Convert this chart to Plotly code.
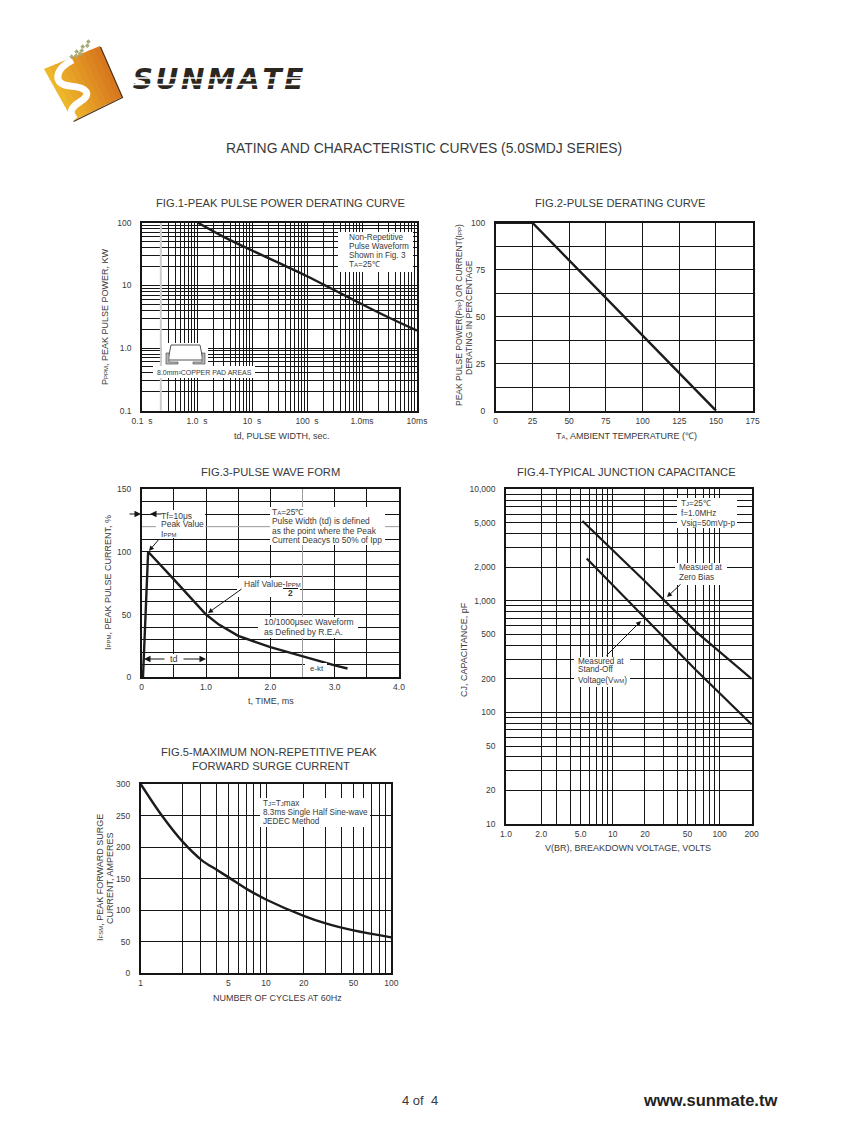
import numpy as np
import plotly.graph_objects as go

W, H = 847, 1125
INK = "#151515"
TXT = "#3a3a3a"
GRAY = "#9a9a9a"
FONT = "Liberation Sans"

# ---- data -------------------------------------------------------------
fig1_x = [1.04, 3, 10, 30, 100, 300, 1000, 3000, 10000]
fig1_y = [100, 60, 36, 23, 14, 8.6, 5, 3.1, 1.9]
fig1_xticks = [0.1, 1, 10, 100, 1000, 10000]
fig1_xlabels = ["0.1  s", "1.0  s", "10  s", "100  s", "1.0ms", "10ms"]
fig1_yticks = [0.1, 1, 10, 100]
fig1_ylabels = ["0.1", "1.0", "10", "100"]

fig2_x = [0, 25, 150]
fig2_y = [100, 100, 0]
fig2_xticks = [0, 25, 50, 75, 100, 125, 150, 175]
fig2_yticks = [0, 25, 50, 75, 100]
fig2_yminor = [12.5, 37.5, 62.5, 87.5]

fig3_x = [0.02, 0.1, 0.5, 1.0, 1.2, 1.5, 2.0, 2.5, 3.0, 3.2]
fig3_y = [0, 100, 78, 50, 42, 33, 24, 16.5, 9.5, 7]
fig3_xticks = [0, 1, 2, 3, 4]
fig3_xlabels = ["0", "1.0", "2.0", "3.0", "4.0"]
fig3_xminor = [0.5, 1.5, 3.5]
fig3_xgray = 2.5
fig3_yticks = [0, 50, 100, 150]
fig3_yminor = [10, 20, 30, 40, 60, 70, 80, 90, 110, 130, 140]
fig3_ygray = 120

fig4_zero_x = [5.2, 20, 60, 200]
fig4_zero_y = [5200, 1500, 530, 200]
fig4_standoff_x = [5.7, 20, 60, 200]
fig4_standoff_y = [2400, 710, 240, 78]
fig4_xticks = [1, 2.14, 5, 10, 20, 50, 100, 200]
fig4_xlabels = ["1.0", "2.0", "5.0", "10", "20", "50", "100", "200"]
fig4_xminor = [3, 4, 6, 7, 8, 9, 30, 40, 60, 70, 80, 90]
fig4_yticks = [10, 20, 50, 100, 200, 500, 1000, 2000, 5000, 10000]
fig4_ylabels = ["10", "20", "50", "100", "200", "500", "1,000", "2,000", "5,000", "10,000"]
fig4_yminor = [30, 40, 60, 70, 80, 90, 300, 400, 600, 700, 800, 900, 3000, 4000, 6000, 7000, 8000, 9000]

fig5_x = [1, 1.5, 2.15, 3.08, 4.04, 5.04, 7.1, 10, 20, 30, 50, 100]
fig5_y = [300, 248, 209, 179, 164, 152, 133, 117, 91, 79, 68, 57]
fig5_xticks = [1, 5, 10, 20, 50, 100]
fig5_xminor = [2.15, 3, 4, 6, 7, 8, 9, 30, 40, 60, 70, 80, 90]
fig5_yticks = [0, 50, 100, 150, 200, 250, 300]

digits = [2, 3, 4, 5, 6, 7, 8, 9]
fig1_xminor = [d * 10.0 ** e for e in range(-1, 4) for d in digits if not (e == -1 and d == 2)]
fig1_xgray = 0.22
fig1_yminor = [d * 10.0 ** e for e in range(-1, 2) for d in digits]

logo_word = ["S\u200aU\u200aN\u200aM\u200aA\u200aT\u200aE"]


def X(v):
    return v / W


def Y(v):
    return 1 - v / H


def sm(t, s=6):
    return f'<span style="font-size:{s}px">{t}</span>'


annotations = []
shapes = []


def label(x, y, text, size=9, anchor="left", angle=0, color=TXT, bold=False, italic=False, family=FONT):
    if bold:
        text = f"<b>{text}</b>"
    if italic:
        text = f"<i>{text}</i>"
    annotations.append(dict(x=X(x), y=Y(y), xref="paper", yref="paper", text=text, showarrow=False,
                            xanchor=anchor, yanchor="middle", textangle=angle, borderpad=0,
                            font=dict(family=family, size=size, color=color)))


def arrow(x0, y0, x1, y1, head=1.0):
    annotations.append(dict(x=X(x1), y=Y(y1), xref="paper", yref="paper", text="", showarrow=True,
                            ax=x0 - x1, ay=y0 - y1, axref="pixel", ayref="pixel",
                            arrowhead=2, arrowsize=head, arrowwidth=1, arrowcolor=INK))


def box(x0, y0, x1, y1):
    shapes.append(dict(type="rect", xref="paper", yref="paper", x0=X(x0), x1=X(x1), y0=Y(y0), y1=Y(y1),
                       fillcolor="white", line=dict(width=0), layer="above"))


def segment(x0, y0, x1, y1, color=INK, width=1):
    shapes.append(dict(type="line", xref="paper", yref="paper", x0=X(x0), x1=X(x1), y0=Y(y0), y1=Y(y1),
                       line=dict(color=color, width=width), layer="above"))


def poly(points, fill=None, color=None, width=0, curve=None):
    path = curve or ("M " + " L ".join(f"{X(a):.5f} {Y(b):.5f}" for a, b in points) + " Z")
    shapes.append(dict(type="path", xref="paper", yref="paper", path=path, fillcolor=fill or "rgba(0,0,0,0)",
                       line=dict(color=color or "rgba(0,0,0,0)", width=width), layer="above"))


def axis(domain, rng, tickvals, ticktext, minor, kind="linear", anchor="y", standoff=1):
    return dict(
        domain=domain, range=rng, type=kind, anchor=anchor, tickmode="array", tickvals=tickvals,
        ticktext=ticktext, showgrid=True, gridcolor=INK, gridwidth=1, showline=True, linecolor=INK,
        linewidth=1.5, mirror=True, ticks="", zeroline=False, ticklabelstandoff=standoff, automargin=False,
        tickfont=dict(family=FONT, size=8.5, color=TXT),
        minor=dict(tickmode="array", tickvals=minor, showgrid=True, gridcolor=INK, gridwidth=1, ticks=""),
    )


layout_axes = {}


def panel(i, px, py, xr, yr, xt, xl, xm, yt, yl, ym, xkind="linear", ykind="linear"):
    sx = "" if i == 1 else str(i)
    layout_axes[f"xaxis{sx}"] = axis([X(px[0]), X(px[1])], xr, xt, xl, xm, xkind, f"y{sx}", 1)
    layout_axes[f"yaxis{sx}"] = axis([Y(py[1]), Y(py[0])], yr, yt, yl, ym, ykind, f"x{sx}", 7)


panel(1, (142, 417), (222.7, 410.7), [-1, 4], [-1, 2], fig1_xticks, fig1_xlabels, fig1_xminor,
      fig1_yticks, fig1_ylabels, fig1_yminor, "log", "log")
panel(2, (495.7, 752.7), (222.7, 410.7), [0, 175], [0, 100], fig2_xticks, [str(v) for v in fig2_xticks], [],
      fig2_yticks, [str(v) for v in fig2_yticks], fig2_yminor)
panel(3, (141.7, 399), (489, 677.3), [0, 4], [0, 150], fig3_xticks, fig3_xlabels, fig3_xminor,
      fig3_yticks, [str(v) for v in fig3_yticks], fig3_yminor)
panel(4, (506, 751.7), (489.3, 824), [0, float(np.log10(200))], [1, 4], fig4_xticks, fig4_xlabels, fig4_xminor,
      fig4_yticks, fig4_ylabels, fig4_yminor, "log", "log")
panel(5, (140.7, 391.3), (784, 973.3), [0, 2], [0, 300], fig5_xticks, [str(v) for v in fig5_xticks], fig5_xminor,
      fig5_yticks, [str(v) for v in fig5_yticks], [], "log", "linear")

# hidden axes that only carry the logo word, so the slit lines can sit above it
layout_axes["xaxis6"] = dict(domain=[X(130), X(305)], range=[0, 1], visible=False, anchor="y6", fixedrange=True)
layout_axes["yaxis6"] = dict(domain=[Y(97), Y(67)], range=[0, 1], visible=False, anchor="x6", fixedrange=True)

fig = go.Figure()


def curve(x, y, i, width=2.4, color="#1c1c1c", shape="linear"):
    sx = "" if i == 1 else str(i)
    fig.add_trace(go.Scatter(x=x, y=y, mode="lines", xaxis=f"x{sx}", yaxis=f"y{sx}", showlegend=False,
                             line=dict(color=color, width=width, shape=shape), hoverinfo="skip"))


curve([fig1_xgray, fig1_xgray], [0.1, 100], 1, 2, "#cccccc")
curve(fig1_x, fig1_y, 1, 2.4, shape="spline")
curve(fig2_x, fig2_y, 2, 2.4)
curve([fig3_xgray, fig3_xgray], [0, 150], 3, 1, GRAY)
curve([0, 4], [fig3_ygray, fig3_ygray], 3, 1, GRAY)
curve(fig3_x, fig3_y, 3, 2.4)
curve(fig4_zero_x, fig4_zero_y, 4, 2.2)
curve(fig4_standoff_x, fig4_standoff_y, 4, 2.2)
curve(fig5_x, fig5_y, 5, 2.4, shape="spline")
fig.add_trace(go.Scatter(x=[0.015], y=[0.5], xaxis="x6", yaxis="y6", mode="text", text=logo_word, showlegend=False,
                         textposition="middle right", hoverinfo="skip", cliponaxis=False,
                         textfont=dict(family="DejaVu Sans", size=28, color="#2b2620", weight="bold", style="italic")))

# ---- white annotation boxes ---------------------------------------------
box(338, 232, 413, 272)
box(153, 366, 255, 378)
box(162, 343, 208, 366)
box(270, 507, 385, 545)
box(237, 578, 300, 597)
box(258, 617, 358, 638)
box(165, 654, 182, 664)
box(305, 663, 327, 673)
box(156, 510, 205, 538)
box(677, 498, 737, 528)
box(675, 563, 727, 585)
box(574, 657, 630, 687)
box(260, 798, 370, 827)

# ---- small package sketch, FIG.1 -----------------------------------------
poly([(171, 345), (200, 345), (203, 360), (168, 360)], fill="white", color="#555555", width=1)
poly([(166, 353), (169, 353), (169, 362), (178, 362), (178, 364), (166, 364)], fill="#b5b5b5", color="#555555", width=0.7)
poly([(205, 353), (202, 353), (202, 362), (193, 362), (193, 364), (205, 364)], fill="#b5b5b5", color="#555555", width=0.7)

# ---- figure titles -------------------------------------------------------
label(424, 148, "RATING AND CHARACTERISTIC CURVES (5.0SMDJ SERIES)", 13.9, "center")
label(280.5, 203, "FIG.1-PEAK PULSE POWER DERATING CURVE", 11.2, "center")
label(620.5, 203, "FIG.2-PULSE DERATING CURVE", 11.2, "center")
label(270, 472, "FIG.3-PULSE WAVE FORM", 11.2, "center")
label(626.5, 472, "FIG.4-TYPICAL JUNCTION CAPACITANCE", 11.2, "center")
label(268.5, 752, "FIG.5-MAXIMUM NON-REPETITIVE PEAK", 11.2, "center")
label(270.5, 766, "FORWARD SURGE CURRENT", 11.2, "center")

# ---- axis titles -----------------------------------------------------------
label(282, 436, "td, PULSE WIDTH, sec.", 9, "center")
label(105, 317, "P" + sm("PPM") + ", PEAK PULSE POWER, KW", 9, "center", -90)
label(626, 436, "T" + sm("A") + ", AMBIENT TEMPERATURE (℃)", 9, "center")
label(459, 315, "PEAK PULSE POWER(P" + sm("PP") + ") OR CURRENT(I" + sm("PP") + ")", 8.5, "center", -90)
label(469, 318, "DERATING IN PERCENTAGE", 8.5, "center", -90)
label(271, 701, "t, TIME, ms", 9, "center")
label(108, 583, "I" + sm("PPM") + ", PEAK PULSE CURRENT, %", 9, "center", -90)
label(628, 848, "V(BR), BREAKDOWN VOLTAGE, VOLTS", 9, "center")
label(464, 650, "CJ, CAPACITANCE, pF", 9, "center", -90)
label(277, 998, "NUMBER OF CYCLES AT 60Hz", 9, "center")
label(100, 878, "I" + sm("FSM") + ", PEAK FORWARD SURGE", 9, "center", -90)
label(110, 878, "CURRENT, AMPERES", 9, "center", -90)

# ---- annotations inside the charts ------------------------------------------
for yy, t in zip([237.5, 246, 255, 264],
                 ["Non-Repetitive", "Pulse Waveform", "Shown in Fig. 3", "T" + sm("A") + "=25℃"]):
    label(348, yy, t, 8.2)
label(204, 372, "8.0mm²COPPER PAD AREAS", 7, "center")

label(160, 515.5, "Tf=10μs", 8.5)
label(160, 524, "Peak Value", 8.5)
label(160, 534, "I" + sm("PPM"), 8.5)
arrow(128, 514, 141, 514, 1.3)
arrow(163, 514, 150, 514, 1.3)
arrow(160, 538, 149, 551)
for yy, t in zip([511.5, 521, 531, 540],
                 ["T" + sm("A") + "=25℃", "Pulse Width (td) is defined",
                  "as the point where the Peak", "Current Deacys to 50% of Ipp"]):
    label(271, yy, t, 8.4)
label(243, 584, "Half Value-I" + sm("PPM"), 8.5)
segment(283, 588.5, 298, 588.5, INK, 1)
label(290.5, 593, "2", 8.5, "center", bold=True)
arrow(243, 588, 208, 613)
label(263, 622, "10/1000μsec Waveform", 8.5)
label(263, 632, "as Defined by R.E.A.", 8.5)
label(174, 659, "td", 9, "center")
arrow(166, 659, 144, 659, 1.3)
arrow(182, 659, 206, 659, 1.3)
label(309, 668, "e-kt", 8)

for yy, t in zip([503, 513, 523], ["T" + sm("J") + "=25℃", "f=1.0MHz", "Vsig=50mVp-p"]):
    label(680, yy, t, 8.2)
label(678, 567, "Measued at", 8.2)
label(678, 577, "Zero Bias", 8.2)
arrow(682, 583, 667, 597)
for yy, t in zip([661, 670, 680], ["Measured at", "Stand-Off", "Voltage(V" + sm("WM") + ")"]):
    label(577, yy, t, 8.2)
arrow(605, 657, 641, 621)
for yy, t in zip([803, 812, 821], ["T" + sm("J") + "=T" + sm("J") + "max", "8.3ms Single Half Sine-wave", "JEDEC Method"]):
    label(262, yy, t, 8.2)

# ---- footer --------------------------------------------------------------------
label(419.5, 1100, "4 of  4", 13, "center")
label(642, 1100, "www.sunmate.tw", 16.5, bold=True, color="#222222")

# ---- logo ----------------------------------------------------------------------
A, B, C, D = np.array([100.0, 46]), np.array([122.0, 97]), np.array([73.0, 121]), np.array([44.0, 69])
c0, c1 = np.array([238, 182, 42]), np.array([216, 120, 30])
N = 10
for k in range(N):
    t0, t1 = k / N, min(1, (k + 1.15) / N)
    P0, P1 = D + (A - D) * t0, D + (A - D) * t1
    Q0, Q1 = C + (B - C) * t0, C + (B - C) * t1
    col = c0 + (c1 - c0) * (k / (N - 1))
    poly([P0, P1, Q1, Q0], fill=f"rgb({col[0]:.0f},{col[1]:.0f},{col[2]:.0f})")
poly([], curve=f"M {X(100.5):.5f} {Y(47):.5f} L {X(122.5):.5f} {Y(97.5):.5f} L {X(73.5):.5f} {Y(121.5):.5f}",
     color="#4a2f10", width=1.2)


def logo_pt(zx, zy):
    return f"{X(30 + zx / 3):.5f} {Y(30 + zy / 3):.5f}"


s_path = ("M " + logo_pt(128, 90) + " C " + logo_pt(70, 120) + ", " + logo_pt(70, 165) + ", " + logo_pt(120, 168)
          + " C " + logo_pt(175, 172) + ", " + logo_pt(185, 195) + ", " + logo_pt(150, 215)
          + " C " + logo_pt(118, 235) + ", " + logo_pt(118, 250) + ", " + logo_pt(135, 268))
poly([], curve=s_path, color="white", width=7)

for zx, zy in [(175, 35), (158, 50), (140, 65), (125, 80), (172, 47), (155, 62), (138, 78), (150, 72)]:
    x, y = 30 + zx / 3, 30 + zy / 3
    poly([(x, y - 2.4), (x + 2.4, y), (x, y + 2.4), (x - 2.4, y)], fill="#a9ab78")

for yy in (78, 84.5):
    segment(130, yy, 305, yy, "white", 1.4)

fig.update_layout(
    width=W, height=H, margin=dict(l=0, r=0, t=0, b=0), paper_bgcolor="white", plot_bgcolor="white",
    showlegend=False, shapes=shapes, annotations=annotations, font=dict(family=FONT, color=TXT),
    **layout_axes,
)

fig.write_html("out.html", config={"displayModeBar": False},
               post_script="document.body.style.margin='0';document.body.style.overflow='hidden';")
